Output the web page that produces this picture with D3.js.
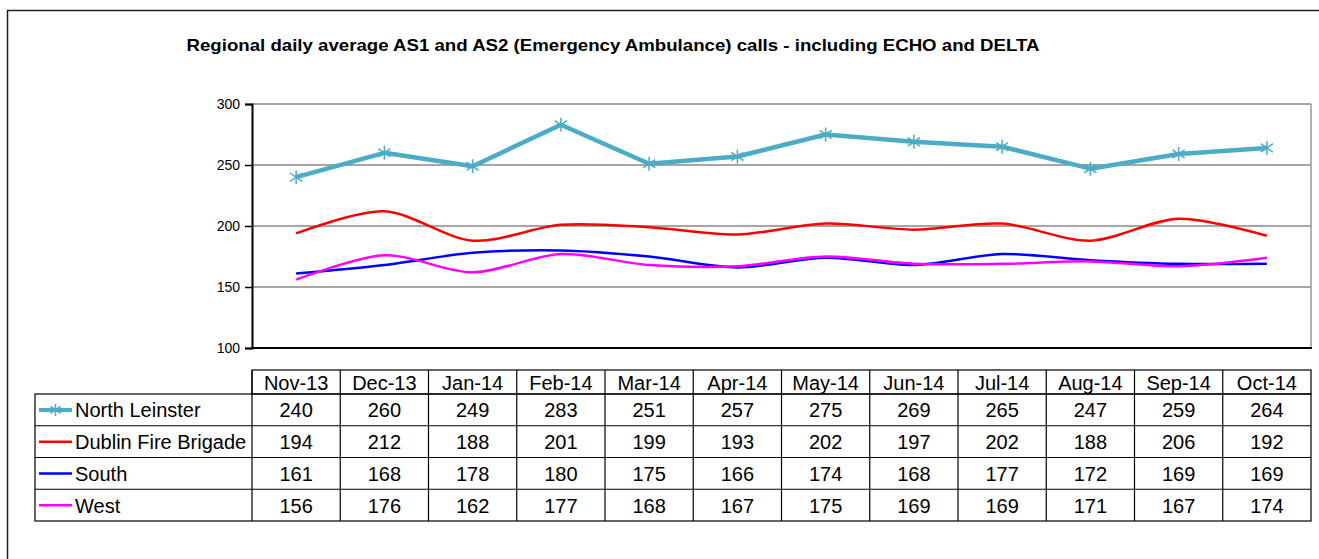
<!DOCTYPE html>
<html>
<head>
<meta charset="utf-8">
<script src="https://cdn.jsdelivr.net/npm/d3@7"></script>
<style>
body { margin: 0; background: #fff; }
svg text { font-family: "Liberation Sans", Arial, sans-serif; }
</style>
</head>
<body>
<script>
// data
var months = ['Nov-13','Dec-13','Jan-14','Feb-14','Mar-14','Apr-14','May-14','Jun-14','Jul-14','Aug-14','Sep-14','Oct-14'];
var seriesNames = ['North Leinster','Dublin Fire Brigade','South','West'];
var northLeinster = [240,260,249,283,251,257,275,269,265,247,259,264];
var dublinFire = [194,212,188,201,199,193,202,197,202,188,206,192];
var south = [161,168,178,180,175,166,174,168,177,172,169,169];
var west = [156,176,162,177,168,167,175,169,169,171,167,174];
var yTicks = [100,150,200,250,300];

var colors = ['#4bacc6','#ff0000','#0000ff','#ff00ff'];
var widths = [4.5,2.5,2.5,2.5];
var allSeries = [northLeinster, dublinFire, south, west];

//==============================================================================

var W = 1319, H = 559;
var svg = d3.select('body').append('svg').attr('width',W).attr('height',H);

// outer frame (runs off right/bottom)
svg.append('rect').attr('x',7.5).attr('y',10.5).attr('width',W+20).attr('height',H+20)
    .attr('fill','none').attr('stroke','#222').attr('stroke-width',1.5);

svg.append('text').attr('x',613).attr('y',51).attr('text-anchor','middle')
    .style('font-size','16.5px').style('font-weight','bold')
    .attr('textLength',853).attr('lengthAdjust','spacingAndGlyphs')
    .text('Regional daily average AS1 and AS2 (Emergency Ambulance) calls - including ECHO and DELTA');

var plotLeft = 252, plotRight = 1311, plotTop = 104, plotBottom = 348;

var x = d3.scaleBand().domain(months).range([plotLeft,plotRight]);
var y = d3.scaleLinear().domain([100,300]).range([plotBottom,plotTop]);

// gridlines
svg.append('g').selectAll('line').data(yTicks.filter(function(d){return d>100;})).join('line')
    .attr('x1',plotLeft).attr('x2',plotRight).attr('y1',function(d){return y(d);}).attr('y2',function(d){return y(d);})
    .attr('stroke','#888').attr('stroke-width',1.5);
svg.append('line').attr('x1',plotRight).attr('x2',plotRight).attr('y1',plotTop).attr('y2',plotBottom)
    .attr('stroke','#999').attr('stroke-width',1.5);

// y axis
var yAxis = svg.append('g').attr('transform','translate('+plotLeft+',0)')
    .call(d3.axisLeft(y).tickValues(yTicks).tickSize(7).tickPadding(5));
yAxis.attr('font-size',14).attr('font-family','Liberation Sans, Arial, sans-serif');
yAxis.select('.domain').attr('stroke','#000').attr('stroke-width',2);
yAxis.selectAll('.tick line').attr('stroke','#000').attr('stroke-width',1.5);
yAxis.selectAll('text').style('font-size','14px').attr('fill','#000');
svg.append('line').attr('x1',plotLeft-1).attr('x2',plotRight+1).attr('y1',plotBottom).attr('y2',plotBottom)
    .attr('stroke','#000').attr('stroke-width',2);

// lines
var xc = function(i){ return x(months[i]) + x.bandwidth()/2; };
var straight = d3.line().x(function(d,i){return xc(i);}).y(function(d){return y(d);});
var smooth = d3.line().x(function(d,i){return xc(i);}).y(function(d){return y(d);}).curve(d3.curveCardinal.tension(0.1));

allSeries.forEach(function(s,k){
    svg.append('path').datum(s).attr('d', k===0 ? straight : smooth)
        .attr('fill','none').attr('stroke',colors[k]).attr('stroke-width',widths[k])
        .attr('stroke-linejoin','round');
});

function star(g, cx, cy, r, col) {
    var a = r*0.87;
    g.append('path')
        .attr('d','M'+cx+','+(cy-r)+'V'+(cy+r)+'M'+(cx-a)+','+(cy-r*0.6)+'L'+(cx+a)+','+(cy+r*0.6)+'M'+(cx-a)+','+(cy+r*0.6)+'L'+(cx+a)+','+(cy-r*0.6))
        .attr('stroke',col).attr('stroke-width',1.5).attr('fill','none');
}
var mk = svg.append('g');
northLeinster.forEach(function(v,i){ star(mk, xc(i), y(v), 7, colors[0]); });

// data table
var hdrTop = 370, rowTop = 394, rowH = 31.75, legLeft = 35;
var tbl = svg.append('g');
tbl.append('rect').attr('x',plotLeft).attr('y',hdrTop).attr('width',plotRight-plotLeft).attr('height',rowTop-hdrTop)
    .attr('fill','none').attr('stroke','#000').attr('stroke-width',1.2);
tbl.append('rect').attr('x',legLeft).attr('y',rowTop).attr('width',plotRight-legLeft).attr('height',rowH*4)
    .attr('fill','none').attr('stroke','#000').attr('stroke-width',1.2);
months.forEach(function(m,i){
    var xx = x(m);
    if (i>0) tbl.append('line').attr('x1',xx).attr('x2',xx).attr('y1',hdrTop).attr('y2',rowTop+rowH*4).attr('stroke','#000').attr('stroke-width',1.2);
    tbl.append('text').attr('x',xx+x.bandwidth()/2).attr('y',hdrTop+19.5).attr('text-anchor','middle')
        .style('font-size','20px').text(m);
});
tbl.append('line').attr('x1',plotLeft).attr('x2',plotLeft).attr('y1',hdrTop).attr('y2',rowTop+rowH*4).attr('stroke','#000').attr('stroke-width',1.2);
seriesNames.forEach(function(n,k){
    var ry = rowTop + rowH*k;
    if (k>0) tbl.append('line').attr('x1',legLeft).attr('x2',plotRight).attr('y1',ry).attr('y2',ry).attr('stroke','#000').attr('stroke-width',1.2);
    var my = ry + rowH/2;
    tbl.append('line').attr('x1',39).attr('x2',72).attr('y1',my).attr('y2',my)
        .attr('stroke',colors[k]).attr('stroke-width',k===0?4:2.5);
    if (k===0) star(tbl, 55.5, my, 6, colors[0]);
    tbl.append('text').attr('x',75).attr('y',my+7.5).style('font-size','20px').text(n);
    allSeries[k].forEach(function(v,i){
        tbl.append('text').attr('x',xc(i)).attr('y',my+7.5).attr('text-anchor','middle')
            .style('font-size','20px').text(v);
    });
});
</script>
</body>
</html>
